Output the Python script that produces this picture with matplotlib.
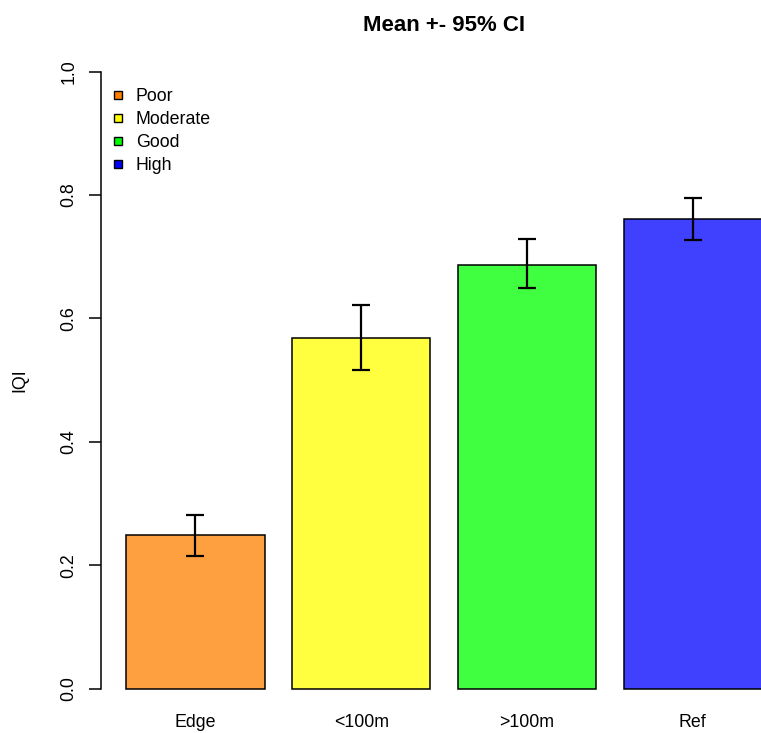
import matplotlib.pyplot as plt
from matplotlib.lines import Line2D
from matplotlib.colors import to_rgba

plt.rcParams['font.family'] = ['Liberation Sans', 'DejaVu Sans']

# group means and 95% confidence limits
groups = ['Edge', '<100m', '>100m', 'Ref']
means = [0.249, 0.569, 0.687, 0.761]
ci_low = [0.215, 0.516, 0.649, 0.727]
ci_high = [0.282, 0.622, 0.728, 0.795]

classes = ['Poor', 'Moderate', 'Good', 'High']
class_colors = ['#ff8000', '#ffff00', '#00ff00', '#0000ff']


def faded(c, alpha=0.75):
    # blend a colour over white, like a semi-transparent fill
    r, g, b, _ = to_rgba(c)
    return (1 - alpha + alpha * r, 1 - alpha + alpha * g, 1 - alpha + alpha * b)


fig = plt.figure(figsize=(7.61, 7.33), dpi=100)
ax = fig.add_axes([0.1327, 0.0270, 0.9019, 0.9089])

x = list(range(len(groups)))
ax.bar(x, means, width=1 / 1.2, color=[faded(c) for c in class_colors],
       edgecolor='black', linewidth=1.1, zorder=2)

err_lo = [m - lo for m, lo in zip(means, ci_low)]
err_hi = [hi - m for m, hi in zip(means, ci_high)]
ax.errorbar(x, means, yerr=[err_lo, err_hi], fmt='none', ecolor='black',
            elinewidth=1.6, capsize=6.8, capthick=1.6, zorder=3)

ax.set_xlim(-0.57, 3.57)
ax.set_ylim(-0.04, 1.04)

for side in ['top', 'right', 'bottom']:
    ax.spines[side].set_visible(False)
ax.spines['left'].set_bounds(0, 1)
ax.spines['left'].set_linewidth(1.1)

ax.set_yticks([0.0, 0.2, 0.4, 0.6, 0.8, 1.0])
ax.set_yticklabels(['0.0', '0.2', '0.4', '0.6', '0.8', '1.0'],
                   rotation=90, va='center')
ax.tick_params(axis='y', length=8.6, width=1.1, pad=8.5, labelsize=12.8)
ax.set_xticks(x)
ax.set_xticklabels(groups)
ax.tick_params(axis='x', length=0, pad=0.5, labelsize=12.8)

ax.set_ylabel('IQI', fontsize=12.8)
ax.yaxis.set_label_coords(-0.106, 0.5)

ax.set_title('Mean +- 95% CI', fontsize=16, fontweight='bold', pad=11.5)

handles = [Line2D([], [], linestyle='none', marker='s', markersize=5.8,
                  markerfacecolor=c, markeredgecolor='black', markeredgewidth=1.0)
           for c in class_colors]
ax.legend(handles, classes, loc='upper left', bbox_to_anchor=(-0.004, 0.957),
          frameon=False, fontsize=12.8, handlelength=0.8, handletextpad=0.62,
          labelspacing=0.34, borderaxespad=0.3)

fig.savefig('out.png', dpi=100)
